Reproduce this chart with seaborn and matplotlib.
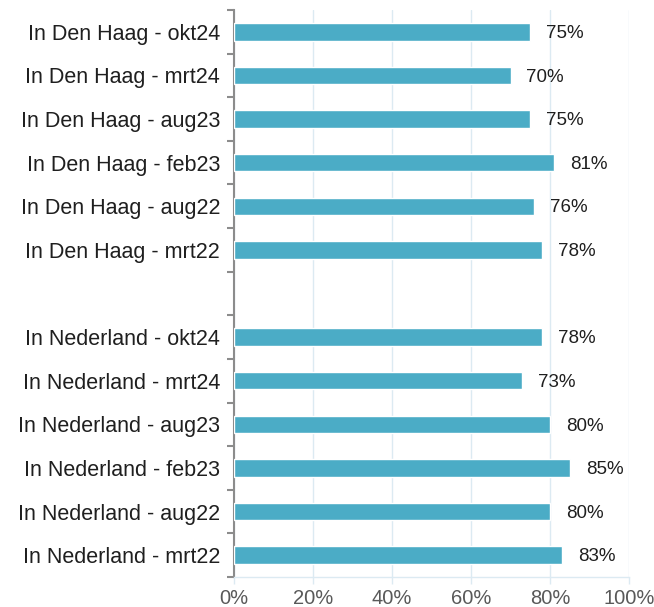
import matplotlib
matplotlib.use("Agg")
import matplotlib.pyplot as plt
import matplotlib.ticker as mticker
import numpy as np
import pandas as pd
import seaborn as sns

# data, top to bottom
den_haag_labels = [
    "In Den Haag - okt24",
    "In Den Haag - mrt24",
    "In Den Haag - aug23",
    "In Den Haag - feb23",
    "In Den Haag - aug22",
    "In Den Haag - mrt22",
]
den_haag_values = [75, 70, 75, 81, 76, 78]

nederland_labels = [
    "In Nederland - okt24",
    "In Nederland - mrt24",
    "In Nederland - aug23",
    "In Nederland - feb23",
    "In Nederland - aug22",
    "In Nederland - mrt22",
]
nederland_values = [78, 73, 80, 85, 80, 83]

x_ticks = [0, 20, 40, 60, 80, 100]

BAR_COLOR = "#4BACC6"
GRID_COLOR = "#DCEAF2"
TEXT_COLOR = "#1F1F1F"

sns.set_theme(style="white")
plt.rcParams["font.family"] = ["Liberation Sans", "DejaVu Sans"]

order = den_haag_labels + [" "] + nederland_labels
df = pd.DataFrame({
    "label": den_haag_labels + nederland_labels,
    "value": den_haag_values + nederland_values,
})

fig = plt.figure(figsize=(6.54, 6.07), dpi=100)
ax = fig.add_axes([234 / 654, 1 - 577 / 607, 395 / 654, 567 / 607])

sns.barplot(data=df, x="value", y="label", order=order, color=BAR_COLOR,
            width=0.4, saturation=1, ax=ax, zorder=3)

ax.set_xlim(0, 100)
ax.set_ylim(len(order) - 0.5, -0.5)
ax.set_xticks(x_ticks)
ax.xaxis.set_major_formatter(mticker.FuncFormatter(lambda v, _: f"{v:.0f}%"))
ax.grid(axis="x", color=GRID_COLOR, lw=1, zorder=0)
ax.grid(axis="y", visible=False)
ax.set_xlabel("")
ax.set_ylabel("")

# value labels
for i, lab in enumerate(order):
    if lab.strip() == "":
        continue
    v = df.loc[df["label"] == lab, "value"].iloc[0]
    ax.annotate(f"{v}%", xy=(v, i), xytext=(11.5, -1.2), textcoords="offset points",
                va="center", ha="left", fontsize=13.5, color=TEXT_COLOR)

# spines
for side in ["top", "right"]:
    ax.spines[side].set_visible(False)
ax.spines["left"].set_color("#8C8C8C")
ax.spines["left"].set_linewidth(1.5)
ax.spines["bottom"].set_color(GRID_COLOR)
ax.spines["bottom"].set_linewidth(1)

# category ticks at slot boundaries
ax.set_yticks(np.arange(len(order)))
ax.set_yticklabels(order)
ax.set_yticks(np.arange(-0.5, len(order), 1), minor=True)
ax.tick_params(axis="y", which="major", length=0, pad=10, labelsize=15.5,
               labelcolor=TEXT_COLOR)
ax.tick_params(axis="y", which="minor", length=5, width=1.5, color="#8C8C8C",
               left=True)
ax.tick_params(axis="x", length=5, width=1, color=GRID_COLOR, labelsize=14.5,
               labelcolor="#595959", pad=4, bottom=True)

fig.savefig("out.png", dpi=100)
